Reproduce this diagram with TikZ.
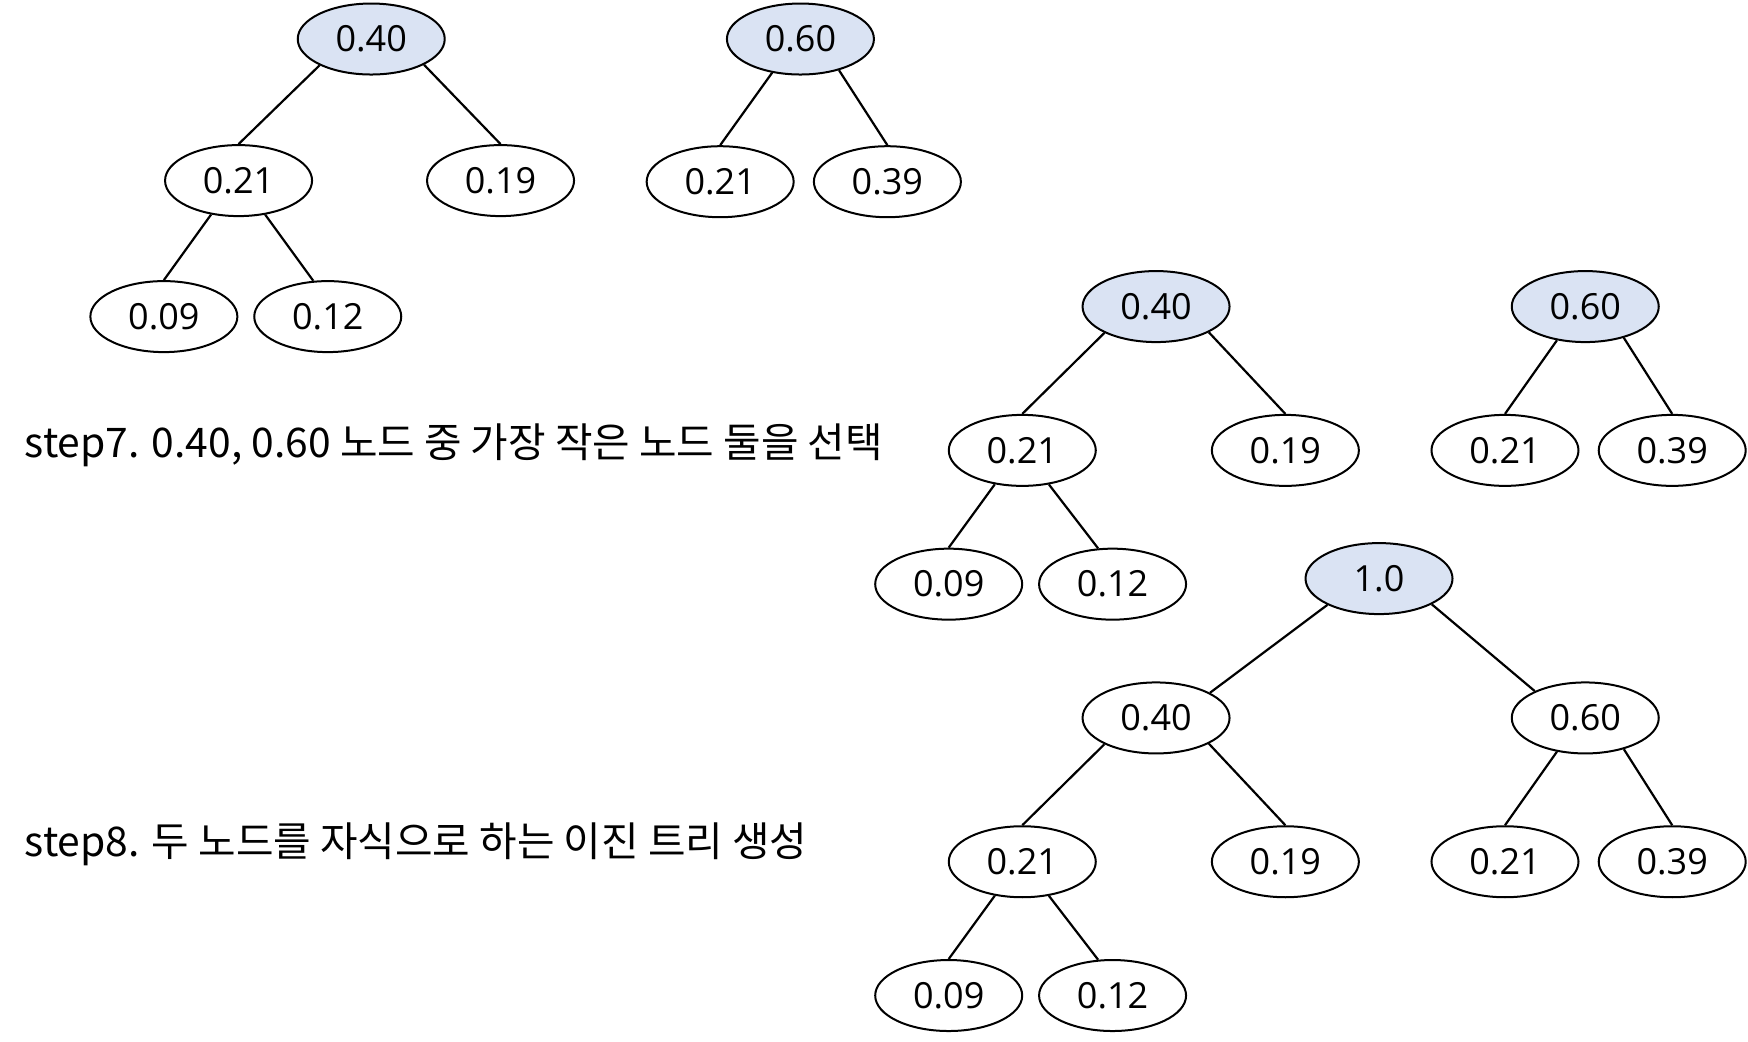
\documentclass[tikz,border=0pt]{standalone}
\usepackage{fontspec}
\setmainfont{Open Sans}
\newfontfamily\kr{Noto Sans CJK KR}
\usetikzlibrary{shapes.geometric}
\definecolor{nodefill}{HTML}{DAE3F3}
\begin{document}
\begin{tikzpicture}[x=0.5574pt,y=-0.5574pt,
  nd/.style={ellipse,draw,line width=1pt,minimum width=73.5pt,minimum height=35.5pt,inner sep=0pt,font=\fontsize{18}{20}\selectfont},
  hl/.style={nd,fill=nodefill},
  edge/.style={line width=1.1pt},
  steptext/.style={anchor=west,inner sep=0pt,font=\kr\fontsize{20.4}{24}\selectfont}]
\useasboundingbox (0,0) rectangle (1568,934);

% ---- Tree A (top left)
\node[hl] (a40) at (333,35) {0.40};
\node[nd] (a21) at (214,162) {0.21};
\node[nd] (a19) at (449,162) {0.19};
\node[nd] (a09) at (147,284) {0.09};
\node[nd] (a12) at (294,284) {0.12};
\draw[edge] (a40.207) -- (a21.north);
\draw[edge] (a40.334) -- (a19.north);
\draw[edge] (a21.231) -- (a09.north);
\draw[edge] (a21.308) -- (a12.112);

\node[hl] (a60) at (718,35) {0.60};
\node[nd] (a21b) at (646,163) {0.21};
\node[nd] (a39) at (796,163) {0.39};
\draw[edge] (a60.230) -- (a21b.north);
\draw[edge] (a60.321) -- (a39.north);

% ---- step 7
\node[steptext] (s7) at (22,399) {step7. 0.40, 0.60 노드 중 가장 작은 노드 둘을 선택};

\node[hl] (b40) at (1037,275) {0.40};
\node[nd] (b21) at (917,404) {0.21};
\node[nd] (b19) at (1153,404) {0.19};
\node[nd] (b09) at (851,524) {0.09};
\node[nd] (b12) at (998,524) {0.12};
\draw[edge] (b40.207) -- (b21.north);
\draw[edge] (b40.334) -- (b19.north);
\draw[edge] (b21.231) -- (b09.north);
\draw[edge] (b21.308) -- (b12.112);

\node[hl] (b60) at (1422,275) {0.60};
\node[nd] (b21b) at (1350,404) {0.21};
\node[nd] (b39) at (1500,404) {0.39};
\draw[edge] (b60.230) -- (b21b.north);
\draw[edge] (b60.321) -- (b39.north);

% ---- step 8
\node[steptext] (s8) at (22,757) {step8. 두 노드를 자식으로 하는 이진 트리 생성};

\node[hl] (c10) at (1237,519) {1.0};
\node[nd] (c40) at (1037,644) {0.40};
\node[nd] (c60) at (1422,644) {0.60};
\draw[edge] (c10.207) -- (c40.25);
\draw[edge] (c10.334) -- (c60.152);

\node[nd] (c21) at (917,773) {0.21};
\node[nd] (c19) at (1153,773) {0.19};
\node[nd] (c09) at (851,893) {0.09};
\node[nd] (c12) at (998,893) {0.12};
\draw[edge] (c40.207) -- (c21.north);
\draw[edge] (c40.334) -- (c19.north);
\draw[edge] (c21.231) -- (c09.north);
\draw[edge] (c21.308) -- (c12.112);

\node[nd] (c21b) at (1350,773) {0.21};
\node[nd] (c39) at (1500,773) {0.39};
\draw[edge] (c60.230) -- (c21b.north);
\draw[edge] (c60.321) -- (c39.north);
\end{tikzpicture}
\end{document}
